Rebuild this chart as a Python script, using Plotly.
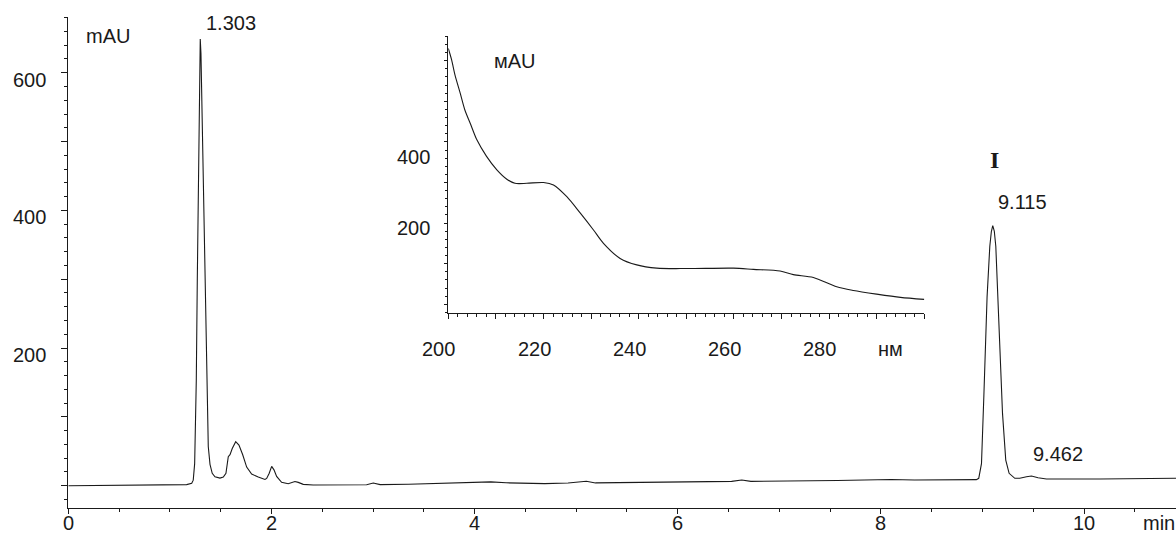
import plotly.graph_objects as go

# ---------------- data ----------------
# Chromatogram: retention time (min) vs absorbance (mAU)
time_min = [0.0, 1.067, 1.165, 1.215, 1.230, 1.244, 1.254, 1.260, 1.270, 1.280, 1.290,
            1.299, 1.306, 1.316, 1.329, 1.345, 1.362, 1.368, 1.378, 1.395, 1.417, 1.444,
            1.493, 1.526, 1.552, 1.575, 1.592, 1.614, 1.648, 1.680, 1.717, 1.756, 1.805,
            1.870, 1.936, 1.953, 1.978, 2.002, 2.025, 2.051, 2.100, 2.165, 2.231, 2.264,
            2.313, 2.411, 2.937, 3.002, 3.07, 3.35, 3.74, 4.16, 4.31, 4.69, 4.92, 5.10,
            5.19, 5.65, 6.22, 6.53, 6.63, 6.72, 7.57, 8.10, 8.33, 8.68, 8.94, 8.963,
            8.990, 9.013, 9.029, 9.045, 9.072, 9.087, 9.101, 9.116, 9.131, 9.147, 9.163,
            9.180, 9.197, 9.229, 9.262, 9.318, 9.367, 9.433, 9.482, 9.547, 9.630, 10.155,
            10.905]
signal_mau = [0, 0.5, 1.5, 3.5, 8, 32, 105, 153, 300, 443, 565,
              649, 628, 543, 443, 280, 152, 105, 57, 31, 18, 13,
              11, 12.5, 18, 42, 45, 54, 64, 59, 45, 27, 17,
              12.5, 9, 10.5, 18, 28, 23, 13.5, 4.8, 2.9, 6, 4.8,
              1.9, 1, 1.4, 3.9, 1.5, 2.0, 3.3, 5.5, 4.2, 3.0, 3.8, 6.5,
              4.0, 4.8, 6.0, 6.2, 8.2, 6.3, 7.5, 9.0, 8.2, 8.2, 8.8, 10.7,
              32, 129, 200, 274, 348, 369, 378, 370, 348, 292, 226,
              160, 105, 37, 18, 10.7, 10.7, 13, 14, 11.6, 9.7, 9.7,
              10.7]

# UV spectrum of peak I: wavelength (nm) vs absorbance (mAU)
wavelength_nm = [200.0, 200.7, 201.4, 202.5, 203.5, 204.6, 206.0, 208.0, 210.2, 212.3,
                 214.0, 216.5, 220.0, 222.1, 224.9, 227.7, 230.5, 232.6, 236.1, 239.6,
                 243.8, 250.1, 259.9, 264.1, 269.7, 272.5, 276.7, 281.6, 285.1, 290.0,
                 295.0, 300.0]
spectrum_mau = [630, 602, 565, 520, 478, 446, 405, 365, 331, 308,
                298, 298, 300, 294, 265, 225, 183, 150, 113, 97,
                89, 88, 89, 86, 82, 73, 66, 43, 34, 25,
                17, 12]

main_x_labels = [0, 2, 4, 6, 8, 10]
main_y_labels = [200, 400, 600]
inset_x_labels = [200, 220, 240, 260, 280]
inset_y_labels = [400, 200]

# ---------------- figure ----------------
W, H = 1176, 535
INK = "#1a1a1a"
FONT = "Liberation Sans, Arial, sans-serif"
FS = 20

fig = go.Figure()
fig.add_trace(go.Scatter(x=time_min, y=signal_mau, mode="lines",
                         line=dict(color=INK, width=1.1), xaxis="x", yaxis="y",
                         showlegend=False, hoverinfo="skip"))
fig.add_trace(go.Scatter(x=wavelength_nm, y=spectrum_mau, mode="lines",
                         line=dict(color=INK, width=1.1, shape="spline", smoothing=0.8),
                         xaxis="x2", yaxis="y2", showlegend=False, hoverinfo="skip"))

ax_common = dict(showgrid=False, zeroline=False, showline=True, linecolor=INK,
                 linewidth=1, ticks="outside", tickcolor=INK, tickwidth=1,
                 showticklabels=False, fixedrange=True)

fig.update_layout(
    width=W, height=H, margin=dict(l=0, r=0, t=0, b=0),
    paper_bgcolor="white", plot_bgcolor="rgba(0,0,0,0)",
    font=dict(family=FONT, size=FS, color=INK),
    xaxis=dict(**ax_common, domain=[68.3 / W, 1.0], range=[0, 10.905],
               tick0=0, dtick=2, ticklen=5,
               minor=dict(dtick=0.5, tick0=0, ticks="outside", ticklen=3, tickcolor=INK)),
    yaxis=dict(**ax_common, domain=[(H - 507.7) / H, (H - 17) / H], range=[-32, 681],
               tick0=0, dtick=100, ticklen=6,
               minor=dict(dtick=20, tick0=0, ticks="outside", ticklen=3, tickcolor=INK)),
    xaxis2=dict(**ax_common, anchor="y2", domain=[448.3 / W, 924.3 / W], range=[200, 300],
                tick0=200, dtick=10, ticklen=4.5,
                minor=dict(dtick=2, tick0=200, ticks="outside", ticklen=2.7, tickcolor=INK)),
    yaxis2=dict(**ax_common, anchor="x2", domain=[(H - 313.3) / H, (H - 36) / H],
                range=[-22.2, 660.8], tick0=0, dtick=100, ticklen=3.5,
                minor=dict(dtick=20, tick0=0, ticks="outside", ticklen=2, tickcolor=INK)),
)

ann = []
def txt(text, **kw):
    d = dict(text=text, showarrow=False, font=dict(family=FONT, size=FS, color=INK))
    d.update(kw)
    ann.append(d)

# main axis tick labels
for v in main_x_labels:
    txt(str(v), xref="x", yref="paper", x=v, y=0, xanchor="center", yanchor="bottom",
        borderpad=0)
for v in main_y_labels:
    txt(str(v), xref="paper", yref="y", x=47.7 / W, y=v, yshift=-7,
        xanchor="right", yanchor="middle")
txt("min", xref="paper", yref="paper", x=1159 / W, y=0, xanchor="center", yanchor="bottom",
    borderpad=0)
txt("mAU", xref="x", yref="y", x=0.394, y=653, xanchor="center", yanchor="middle")

# peak labels
txt("1.303", xref="x", yref="y", x=1.303, y=672, xshift=3, xanchor="left", yanchor="middle")
txt("9.115", xref="x", yref="y", x=9.115, y=412, xshift=2, xanchor="left", yanchor="middle")
txt("9.462", xref="x", yref="y", x=9.462, y=46, xshift=1.5, xanchor="left", yanchor="middle")
txt("<b>I</b>", xref="x", yref="y", x=9.115, y=473, xanchor="center", yanchor="middle",
    font=dict(family="Liberation Serif, Times New Roman, serif", size=24, color=INK))

# inset tick labels
for v in inset_x_labels:
    txt(str(v), xref="x2", yref="paper", x=v, y=(H - 349) / H, xshift=-9.5,
        xanchor="center", yanchor="middle")
for v, sh in zip(inset_y_labels, [-14.8, -5.2]):
    txt(str(v), xref="paper", yref="y2", x=431.7 / W, y=v, yshift=sh,
        xanchor="right", yanchor="middle")
txt("нм", xref="x2", yref="paper", x=292.85, y=(H - 349) / H, xanchor="center", yanchor="middle")
txt("мAU", xref="x2", yref="y2", x=214.0, y=600, xanchor="center", yanchor="middle")

fig.update_layout(annotations=ann)
fig.write_html("out.html")
